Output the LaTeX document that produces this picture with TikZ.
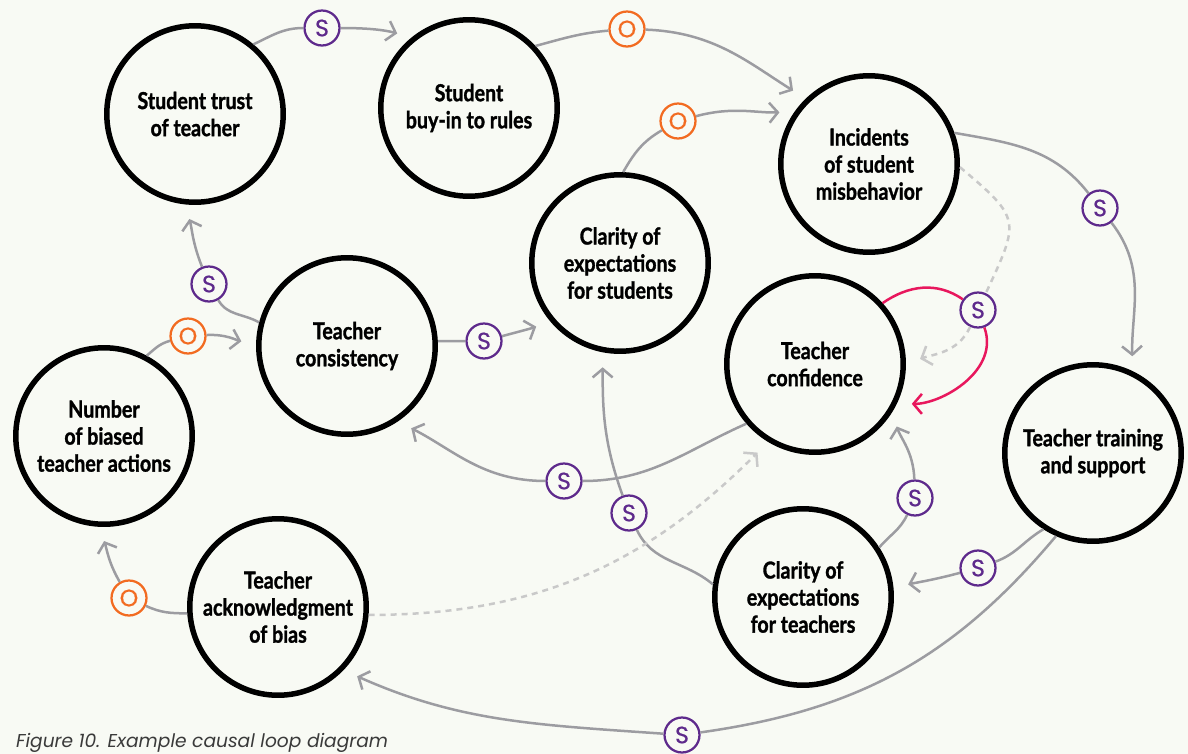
\documentclass[tikz,border=0pt]{standalone}
\usepackage{fontspec}
\usepackage{xcolor}
\usetikzlibrary{arrows.meta}
\newfontfamily\boxfont[FakeStretch=0.84, FakeBold=1.3]{Lato}
\newfontfamily\markfont[FakeBold=0.6]{Poppins}
\newfontfamily\capfont{Poppins}
\definecolor{paper}{HTML}{F8FAF4}
\definecolor{linkgray}{HTML}{9C9CA1}
\definecolor{dashgray}{HTML}{C9C9C9}
\definecolor{spurple}{HTML}{5E2A8C}
\definecolor{oorange}{HTML}{F26B21}
\definecolor{loopred}{HTML}{E8175D}
\definecolor{capgray}{HTML}{3A3A3A}

\begin{document}
\begin{tikzpicture}[x=0.02cm, y=-0.02cm,
    factor/.style={circle, draw=black, line width=0.11cm, fill=paper, minimum size=3.53cm, inner sep=0pt, align=center, font=\boxfont\bfseries\fontsize{13.3}{15.4}\selectfont},
    same/.style={circle, draw=spurple, line width=0.045cm, fill=paper, minimum size=0.7cm, inner sep=0pt, text=spurple, font=\markfont\fontsize{13.5}{13.5}\selectfont},
    opp/.style={same, draw=oorange, text=oorange},
    link/.style={draw=linkgray, line width=0.05cm},
    dashlink/.style={draw=dashgray, line width=0.05cm, dash pattern=on 0.12cm off 0.1cm},
    redlink/.style={draw=loopred, line width=0.05cm},
    tip/.style={-{Straight Barb[length=0.17cm, width=0.4cm]}, shorten >=0.3cm}]
    \fill[paper] (0,0) rectangle (1188,754);
    \useasboundingbox (0,0) rectangle (1188,754);

    \node[factor] (trust) at (195,114) {Student trust\\of teacher};
    \node[factor] (buyin) at (469,108) {Student\\buy-in to rules};
    \node[factor] (incidents) at (869,164) {Incidents\\of student\\misbehavior};
    \node[factor] (clarityS) at (620,263) {Clarity of\\expectations\\for students};
    \node[factor] (consistency) at (347,346) {Teacher\\consistency};
    \node[factor] (confidence) at (815,364) {Teacher\\confidence};
    \node[factor] (number) at (104,436) {Number\\of biased\\teacher actions};
    \node[factor] (training) at (1093,453) {Teacher training\\and support};
    \node[factor] (ack) at (278,607) {Teacher\\acknowledgment\\of bias};
    \node[factor] (clarityT) at (803,597) {Clarity of\\expectations\\for teachers};

    \foreach \m/\x/\y in {sTB/322/28, sIT/1100/208, sConf/978/310, sCT/209/284, sCS2/484/341, sCC/915/498, sCo/564/481, sCS/629/513, sTC/978/568, sBot/682/735}
        \node[same] (\m) at (\x,\y) {S};
    \foreach \m/\x/\y in {oBI/627/29, oCI/678/121, oNC/188/336, oAN/129/598}
        \node[opp] (\m) at (\x,\y) {O};

    \draw[link, tip] (trust.50) to[out=25, in=180] (sTB) to[out=0, in=165] (buyin.129);
    \draw[link, tip] (buyin.43) to[out=15, in=185] (oBI) to[out=-2, in=148] (incidents.134);
    \draw[link, tip] (clarityS.88) to[out=60, in=210] (oCI) to[out=15, in=182] (incidents.145);
    \draw[link, tip] (incidents.20) to[out=-10, in=128] (sIT) to[out=-52, in=92] (training.64);
    \draw[dashlink, tip] (incidents.-2) to[out=-40, in=65, looseness=1.6] (sConf) to[out=-115, in=20] (confidence.0);
    \draw[redlink, tip] (confidence.42) to[out=35, in=145] (sConf) to[out=-70, in=0] (confidence.-26);
    \draw[link, tip] (training.-123) to[out=210, in=20] (sTC) to[out=195, in=12] (clarityT.6);
    \draw[link, tip] (training.-114) to[out=-130, in=8] (sBot) to[out=176, in=-24] (ack.-44);
    \draw[link, tip] (clarityT.33) to[out=50, in=245] (sCC) to[out=92, in=-72] (confidence.-32);
    \draw[link, tip] (clarityT.172) to[out=140, in=-65] (sCS) to[out=110, in=-90] (clarityS.-101);
    \draw[link, tip] (confidence.221) to[out=204, in=0] (sCo) to[out=180, in=-27] (consistency.-56);
    \draw[link, tip] (consistency.3) to[out=0, in=180] (sCS2) to[out=15, in=200] (clarityS.220);
    \draw[link, tip] (consistency.165) to[out=150, in=-60] (sCT) to[out=112, in=-75] (trust.-96);
    \draw[link, tip] (number.62) to[out=40, in=195] (oNC) to[out=3, in=168] (consistency.179);
    \draw[link, tip] (ack.184) to[out=180, in=-25] (oAN) to[out=120, in=-71] (number.-93);
    \draw[dashlink, tip] (ack.-5) to[out=0, in=225] (confidence.239);

    \node[anchor=base west, text=capgray, font=\capfont\itshape\fontsize{10.6}{12}\selectfont] (caption) at (10,747) {Figure 10. Example causal loop diagram};
\end{tikzpicture}
\end{document}
